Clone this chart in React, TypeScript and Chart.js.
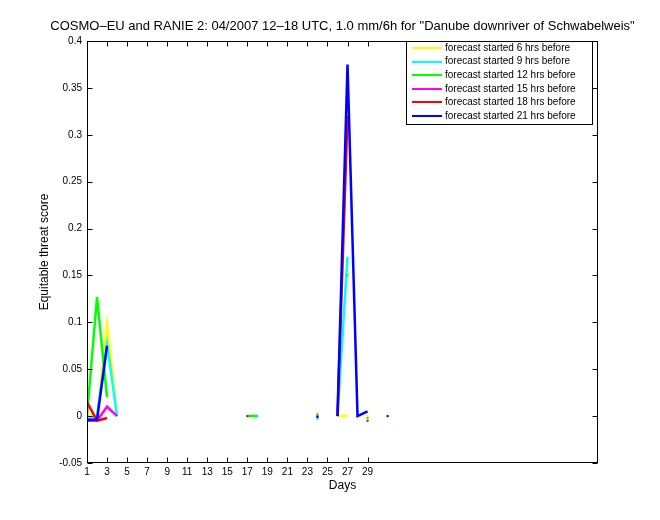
import { useEffect, useRef } from "react";
import { Chart, registerables } from "chart.js";
Chart.register(...registerables);

const n = null;
const days = [1,2,3,4,5,6,7,8,9,10,11,12,13,14,15,16,17,18,19,20,21,22,23,24,25,26,27,28,29,30,31];
//               1      2      3      4  5 6 7 8 9 10 11 12 13 14 15 16 17 18 19 20 21 22 23 24      25 26 27     28 29      30 31
const yellow6  = [0,     0,     0.098, 0, n,n,n,n,n,n, n, n, n, n, n, n, n, n, n, n, n, n, n, n,     n, 0, 0,     n, 0,      n, n];
const cyan9    = [-0.003,0,     0.077, 0, n,n,n,n,n,n, n, n, n, n, n, n, n, 0, n, n, n, n, n, -0.003,n, 0, 0.17,  n, n,      n, n];
const green12  = [0,     0.127, 0.02,  n, n,n,n,n,n,n, n, n, n, n, n, n, 0, 0, n, n, n, n, n, 0.002, n, n, 0.15,  n, -0.002, n, n];
const magenta15= [-0.005,-0.005,0.01,  0, n,n,n,n,n,n, n, n, n, n, n, n, n, n, n, n, n, n, n, n,     n, n, n,     n, n,      n, n];
const red18    = [0.015, -0.005,-0.002,n, n,n,n,n,n,n, n, n, n, n, n, n, 0, n, n, n, n, n, n, 0,     n, 0, 0.32,  n, -0.005, n, n];
const blue21   = [-0.004,-0.004,0.075, n, n,n,n,n,n,n, n, n, n, n, n, n, n, n, n, n, n, n, n, -0.001,n, 0, 0.375, 0, 0.005,  n, 0];

const seriesLabels = [
  "forecast started 6 hrs before",
  "forecast started 9 hrs before",
  "forecast started 12 hrs before",
  "forecast started 15 hrs before",
  "forecast started 18 hrs before",
  "forecast started 21 hrs before",
];
const seriesColors = ["#ffff00", "#00ffff", "#00ff00", "#ff00ff", "#ff0000", "#0000ff"];
const seriesValues = [yellow6, cyan9, green12, magenta15, red18, blue21];

const xTickVals = [1,3,5,7,9,11,13,15,17,19,21,23,25,27,29];
const yTickVals = [-0.05,0,0.05,0.1,0.15,0.2,0.25,0.3,0.35,0.4];
const yTickLabels = ["-0.05","0","0.05","0.1","0.15","0.2","0.25","0.3","0.35","0.4"];

const titleText = 'COSMO\u2013EU and RANIE 2: 04/2007 12\u201318 UTC, 1.0 mm/6h for "Danube downriver of Schwabelweis"';
const xLabel = "Days";
const yLabel = "Equitable threat score";

const FONT = '"Liberation Sans", Arial, Helvetica, sans-serif';

const framePlugin = {
  id: "frame",
  afterDraw(chart: any) {
    const { ctx, chartArea: a, scales } = chart;
    ctx.save();
    ctx.strokeStyle = "#000";
    ctx.lineWidth = 1;
    const L = Math.round(a.left) + 0.5, R = Math.round(a.right) - 0.5;
    const T = Math.round(a.top) + 0.5, B = Math.round(a.bottom) - 0.5;
    ctx.strokeRect(L, T, R - L, B - T);
    ctx.beginPath();
    xTickVals.forEach((v) => {
      const px = Math.round(scales.x.getPixelForValue(v)) + 0.5;
      ctx.moveTo(px, B); ctx.lineTo(px, B - 5);
      ctx.moveTo(px, T); ctx.lineTo(px, T + 5);
    });
    yTickVals.forEach((v) => {
      const py = Math.round(scales.y.getPixelForValue(v)) + 0.5;
      ctx.moveTo(L, py); ctx.lineTo(L + 5, py);
      ctx.moveTo(R, py); ctx.lineTo(R - 5, py);
    });
    ctx.stroke();

    ctx.fillStyle = "#000";
    ctx.textAlign = "center";
    ctx.textBaseline = "middle";
    ctx.font = `13px ${FONT}`;
    ctx.fillText(titleText, (a.left + a.right) / 2, 26);
    ctx.font = `12px ${FONT}`;
    ctx.fillText(xLabel, (a.left + a.right) / 2, 486);
    ctx.save();
    ctx.translate(45, (a.top + a.bottom) / 2);
    ctx.rotate(-Math.PI / 2);
    ctx.fillText(yLabel, 0, 0);
    ctx.restore();

    // legend
    const lx = 406, ly = 41, lw = 186, lh = 83;
    ctx.fillStyle = "#fff";
    ctx.fillRect(lx, ly, lw, lh);
    ctx.strokeRect(lx + 0.5, ly + 0.5, lw, lh);
    ctx.font = `10px ${FONT}`;
    ctx.textAlign = "left";
    seriesLabels.forEach((lab, i) => {
      const y = 48 + i * 13.6;
      ctx.strokeStyle = seriesColors[i];
      ctx.lineWidth = 2;
      ctx.beginPath();
      ctx.moveTo(412, Math.round(y));
      ctx.lineTo(442, Math.round(y));
      ctx.stroke();
      ctx.fillStyle = "#000";
      ctx.fillText(lab, 445, y);
    });
    ctx.restore();
  },
};

export default function App() {
  const ref = useRef<HTMLCanvasElement>(null);
  useEffect(() => {
    if (!ref.current) return;
    const datasets = seriesValues.map((vals, i) => ({
      label: seriesLabels[i],
      data: days.map((d, j) => ({ x: d, y: vals[j] })),
      borderColor: seriesColors[i],
      backgroundColor: seriesColors[i],
      borderWidth: 2.5,
      order: 5 - i,
      spanGaps: false,
      pointStyle: "rect",
      pointRadius: (c: any) => {
        const j = c.dataIndex;
        if (vals[j] === null || vals[j] === undefined) return 0;
        const prev = j > 0 ? vals[j - 1] : null;
        const next = j < vals.length - 1 ? vals[j + 1] : null;
        return prev === null && next === null ? 1.5 : 0;
      },
      pointBorderWidth: 0,
      tension: 0,
    }));
    const chart = new Chart(ref.current, {
      type: "line",
      data: { datasets },
      plugins: [framePlugin],
      options: {
        animation: false,
        responsive: false,
        events: [],
        layout: { padding: { top: 41, right: 62, left: 0, bottom: 0 } },
        plugins: { legend: { display: false }, tooltip: { enabled: false }, title: { display: false } },
        scales: {
          x: {
            type: "linear",
            min: 1,
            max: 52,
            afterBuildTicks: (s: any) => { s.ticks = xTickVals.map((v) => ({ value: v })); },
            afterFit: (s: any) => { s.height = 57; },
            ticks: { color: "#000", font: { size: 10, family: FONT }, maxRotation: 0, autoSkip: false, padding: 3, callback: (v: any) => String(v) },
            grid: { display: false, drawTicks: false },
            border: { display: false },
          },
          y: {
            type: "linear",
            min: -0.05,
            max: 0.4,
            afterBuildTicks: (s: any) => { s.ticks = yTickVals.map((v) => ({ value: v })); },
            afterFit: (s: any) => { s.width = 87; },
            ticks: { color: "#000", font: { size: 10, family: FONT }, padding: 5, callback: (_v: any, i: number) => yTickLabels[i] },
            grid: { display: false, drawTicks: false },
            border: { display: false },
          },
        },
      },
    });
    return () => chart.destroy();
  }, []);
  return (
    <div style={{ position: "absolute", left: 0, top: 0, width: 660, height: 520, background: "#fff" }}>
      <canvas ref={ref} width={660} height={520} style={{ display: "block" }} />
    </div>
  );
}
